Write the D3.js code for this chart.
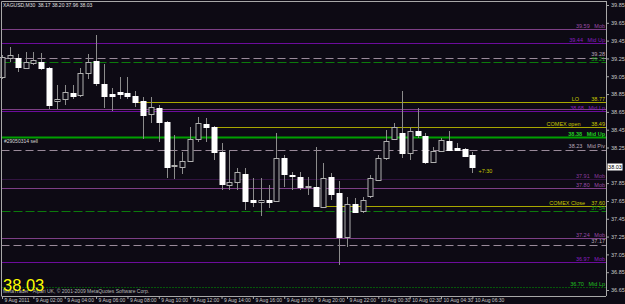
<!DOCTYPE html>
<html>
<head>
<meta charset="utf-8">
<script src="https://cdn.jsdelivr.net/npm/d3@7"></script>
<style>
html, body { margin: 0; padding: 0; background: #0d0a14; }
svg { display: block; }
text { font-family: "Liberation Sans", Arial, sans-serif; }
</style>
</head>
<body>
<svg id="chart" width="625" height="304"></svg>
<script>
// XAGUSD M30 bars, 9 Aug 2011 00:00 -> 10 Aug 2011 06:30
const barTimes = ["9 00:00","9 00:30","9 01:00","9 01:30","9 02:00","9 02:30","9 03:00","9 03:30","9 04:00","9 04:30",
  "9 05:00","9 05:30","9 06:00","9 06:30","9 07:00","9 07:30","9 08:00","9 08:30","9 09:00","9 09:30",
  "9 10:00","9 10:30","9 11:00","9 11:30","9 12:00","9 12:30","9 13:00","9 13:30","9 14:00","9 14:30",
  "9 15:00","9 15:30","9 16:00","9 16:30","9 17:00","9 17:30","9 18:00","9 18:30","9 19:00","9 19:30",
  "9 20:00","9 20:30","9 21:00","9 21:30","9 22:00","9 22:30","9 23:00","9 23:30","10 00:30","10 01:00",
  "10 01:30","10 02:00","10 02:30","10 03:00","10 03:30","10 04:00","10 04:30","10 05:00","10 05:30","10 06:00","10 06:30"];

const opens = [39.04,39.25,39.255,39.14,39.20,39.21,39.14,38.77,38.80,38.86,
  38.835,39.09,39.22,38.96,38.85,38.875,38.86,38.83,38.77,38.63,
  38.69,38.54,38.05,38.03,38.10,38.345,38.517,38.48,38.20,37.83,
  37.86,37.95,37.66,37.64,37.66,37.65,38.135,37.945,37.92,37.81,
  37.81,37.58,37.92,37.735,37.25,37.615,37.54,37.705,37.89,38.13,
  38.345,38.41,38.185,38.43,38.38,38.09,38.21,38.325,38.24,38.23,38.17];
const highs = [39.29,39.38,39.30,39.32,39.32,39.31,39.15,38.95,38.95,38.95,
  39.14,39.30,39.51,39.19,38.92,39.04,39.04,38.89,38.82,38.82,
  38.73,38.55,38.39,38.20,38.48,38.59,38.58,38.49,38.30,38.22,
  38.02,38.02,37.91,37.91,37.83,38.41,38.165,37.98,37.975,37.92,
  38.26,38.08,37.96,37.87,37.695,37.68,37.69,37.94,38.165,38.445,
  38.525,38.88,38.48,38.69,38.41,38.26,38.36,38.43,38.30,38.24,38.20];
const lows = [39.02,39.21,39.10,39.13,39.18,39.12,38.68,38.68,38.73,38.80,
  38.82,39.02,38.94,38.69,38.66,38.795,38.795,38.71,38.345,38.525,
  38.315,37.91,37.90,37.95,38.09,38.315,38.315,38.11,37.77,37.77,
  37.77,37.55,37.585,37.48,37.57,37.64,37.81,37.77,37.77,37.72,
  37.58,37.57,37.66,36.93,37.135,37.52,37.52,37.68,37.88,38.11,
  38.334,38.13,38.11,38.355,38.07,38.085,38.20,38.215,38.22,38.15,37.96];
const closes = [39.27,39.29,39.154,39.21,39.23,39.14,38.73,38.80,38.87,38.83,
  39.09,39.21,38.97,38.83,38.825,38.85,38.83,38.76,38.615,38.705,
  38.54,38.03,38.055,38.10,38.345,38.525,38.477,38.20,37.84,37.86,
  37.975,37.65,37.64,37.66,37.64,38.135,37.95,37.94,37.81,37.815,
  37.59,37.91,37.73,37.25,37.615,37.53,37.66,37.91,38.135,38.32,
  38.48,38.185,38.44,38.39,38.09,38.21,38.33,38.22,38.22,38.155,38.03];

// 38.05 is hidden behind the current-price tag in the terminal
const priceTicks = [39.85,39.65,39.45,39.25,39.05,38.85,38.65,38.45,38.25,37.85,37.65,37.45,37.25,37.05,36.85,36.65];
const timeTickBars = ["9 00:00","9 02:00","9 04:00","9 06:00","9 08:00","9 10:00","9 12:00","9 14:00",
  "9 16:00","9 18:00","9 20:00","9 22:00","10 00:30","10 02:30","10 04:30","10 06:30"];
const timeTickLabels = ["9 Aug 2011","9 Aug 02:00","9 Aug 04:00","9 Aug 06:00","9 Aug 08:00","9 Aug 10:00","9 Aug 12:00","9 Aug 14:00",
  "9 Aug 16:00","9 Aug 18:00","9 Aug 20:00","9 Aug 22:00","10 Aug 00:30","10 Aug 02:30","10 Aug 04:30","10 Aug 06:30"];

// horizontal levels drawn by indicators
const levelValues = [39.58,39.42,39.26,39.21,38.757,38.68,38.66,38.477,38.37,38.22,37.896,37.79,37.593,37.54,37.23,37.15,36.964,36.687];
const levelKinds  = ["mob","mid","pivot","order","comex","mob","mid","comex","midGreen","pivot","mobDark","mob","comex","order","mob","pivot","mid","midDot"];
const levelFrom   = [null,null,null,null,"9 08:30",null,null,"9 13:30",null,null,null,null,"9 20:30",null,null,null,null,null];
const levelText   = ["39.59   Mob","39.44   Mid Up","39.28","39.21","LO        38.77","","38.68   Mid Lp","COMEX open       38.49",
  "38.38   Mid Up","38.23   Mid Piv","37.91   Mob","37.80   Mob","COMEX Close    37.60","37.54","37.24   Mob","37.17","36.97   Mob","36.70   Mid Lp"];

const symbol = "XAGUSD,M30";
const lastPrice = 38.03;
const orderText = "#29050314 sell";
const timerText = "+7:30";
const copyright = "MetaTrader - Alpari UK, \u00a9 2001-2009 MetaQuotes Software Corp.";

const levelStyle = {
  mob:      { color: "#7d3f86", dash: null, width: 1 },
  mobDark:  { color: "#5a1f70", dash: "1,1", width: 1 },
  mid:      { color: "#6c0c9c", dash: null, width: 1 },
  pivot:    { color: "#9a8a9a", dash: "8,4", width: 1 },
  order:    { color: "#0c7a0c", dash: "9,3", width: 1 },
  comex:    { color: "#a8a800", dash: null, width: 1 },
  midGreen: { color: "#00a000", dash: null, width: 2 },
  midDot:   { color: "#00a000", dash: "1,2", width: 1 }
};
const labelColor = {
  mob: "#9a4aa6", mobDark: "#8a3a9e", mid: "#8a1ec0", pivot: "#b8a8b8", order: "#10a010",
  comex: "#c8c800", midGreen: "#20d020", midDot: "#20c020"
};

const W = 625, H = 304;
const plotLeft = 1.5, plotRight = 606, plotTop = 1, plotBottom = 296;

const svg = d3.select("#chart");
svg.append("rect").attr("width", W).attr("height", H).attr("fill", "#0d0a14");

const x = d3.scalePoint().domain(barTimes).range([2, 472.4]);
const y = d3.scaleLinear().domain([36.65, 39.85]).range([290, 5]);
const px = v => Math.round(x(v)) + 0.5;
const py = v => Math.round(y(v)) + 0.5;

// indicator levels
const levels = levelValues.map((v, i) => ({ v, kind: levelKinds[i], from: levelFrom[i], text: levelText[i] }));
svg.append("g").selectAll("line")
  .data(levels)
  .join("line")
  .attr("x1", d => d.from ? px(d.from) : plotLeft)
  .attr("x2", plotRight)
  .attr("y1", d => py(d.v))
  .attr("y2", d => py(d.v))
  .attr("stroke", d => levelStyle[d.kind].color)
  .attr("stroke-width", d => levelStyle[d.kind].width)
  .attr("stroke-dasharray", d => levelStyle[d.kind].dash);

svg.append("g").selectAll("text")
  .data(levels.filter(d => d.text))
  .join("text")
  .attr("x", 605)
  .attr("y", d => Math.round(y(d.v)) - (d.kind === "pivot" ? 2 : 1))
  .attr("text-anchor", "end")
  .attr("font-size", 5.5)
  .attr("fill", d => labelColor[d.kind])
  .attr("font-weight", d => d.kind === "midGreen" ? "bold" : null)
  .style("white-space", "pre")
  .text(d => d.text);

// candles
const bars = barTimes.map((t, i) => ({ t, o: opens[i], h: highs[i], l: lows[i], c: closes[i] }));
const candle = svg.append("g").selectAll("g")
  .data(bars)
  .join("g");

candle.append("line")
  .attr("x1", d => px(d.t)).attr("x2", d => px(d.t))
  .attr("y1", d => Math.round(y(d.h)))
  .attr("y2", d => Math.round(y(d.l)))
  .attr("stroke", "#8c8c8c");

candle.append("rect")
  .attr("x", d => px(d.t) - 2.5)
  .attr("width", 5)
  .attr("y", d => Math.round(y(Math.max(d.o, d.c))) + 0.5)
  .attr("height", d => Math.max(1, Math.round(y(Math.min(d.o, d.c))) - Math.round(y(Math.max(d.o, d.c)))))
  .attr("fill", d => d.c < d.o ? "#ffffff" : "#0d0a14")
  .attr("stroke", d => d.c < d.o ? "#ffffff" : "#b0b0b0");

// frame
svg.append("path")
  .attr("d", `M${plotLeft},${plotBottom} V${plotTop + 0.5} H${plotRight}`)
  .attr("fill", "none")
  .attr("stroke", "#a8a8a8");

// price axis
const yAxis = svg.append("g")
  .attr("transform", `translate(${plotRight},0)`)
  .call(d3.axisRight(y).tickValues(priceTicks).tickSize(3).tickPadding(2).tickFormat(d3.format(".2f")));
yAxis.select(".domain").attr("stroke", "#a8a8a8").attr("d", `M0.5,${plotTop} V${plotBottom}`);
yAxis.selectAll(".tick line").attr("stroke", "#a8a8a8");
yAxis.selectAll(".tick text").attr("fill", "#c8c8c8").attr("font-size", 5.5).attr("font-family", null);

// current price marker
const priceTag = svg.append("g").attr("transform", `translate(607,${Math.round(y(lastPrice))})`);
priceTag.append("rect").attr("x", 0.5).attr("y", -3.5).attr("width", 15).attr("height", 7).attr("fill", "#ffffff");
priceTag.append("text").attr("x", 8).attr("y", 2).attr("text-anchor", "middle").attr("font-size", 5.5).attr("fill", "#000").text(d3.format(".2f")(lastPrice));

// time axis
const xAxis = svg.append("g")
  .attr("transform", `translate(0,${plotBottom})`)
  .call(d3.axisBottom(x).tickValues(timeTickBars).tickSize(3).tickFormat((d, i) => timeTickLabels[i]));
xAxis.select(".domain").attr("stroke", "#a8a8a8").attr("d", `M${plotLeft},0.5 H${plotRight}`);
xAxis.selectAll(".tick line").attr("stroke", "#a8a8a8");
xAxis.selectAll(".tick text")
  .attr("fill", "#c8c8c8").attr("font-size", 5).attr("font-family", null)
  .attr("text-anchor", "start").attr("x", 2).attr("y", 2).attr("dy", "0.71em");

// texts
svg.append("text").attr("x", 3).attr("y", 7).attr("font-size", 5).attr("fill", "#e0e0e0")
  .style("white-space", "pre")
  .text(`${symbol}  ${d3.format(".2f")(opens[60])} ${d3.format(".2f")(highs[60])} ${d3.format(".2f")(lows[60])} ${d3.format(".2f")(closes[60])}`);

svg.append("text").attr("x", 4).attr("y", 142.5).attr("font-size", 5).attr("fill", "#d8d8d8").text(orderText);

svg.append("text").attr("x", px(barTimes[60]) + 6).attr("y", 172.5).attr("font-size", 5.5).attr("fill", "#c8c800").text(timerText);

svg.append("text").attr("x", 3).attr("y", 292.5).attr("font-size", 5).attr("fill", "#b8b8b8").text(copyright);

svg.append("text").attr("x", 3).attr("y", 290.5).attr("font-size", 16.5).attr("fill", "#ffff00")
  .text(d3.format(".2f")(lastPrice));
</script>
</body>
</html>
